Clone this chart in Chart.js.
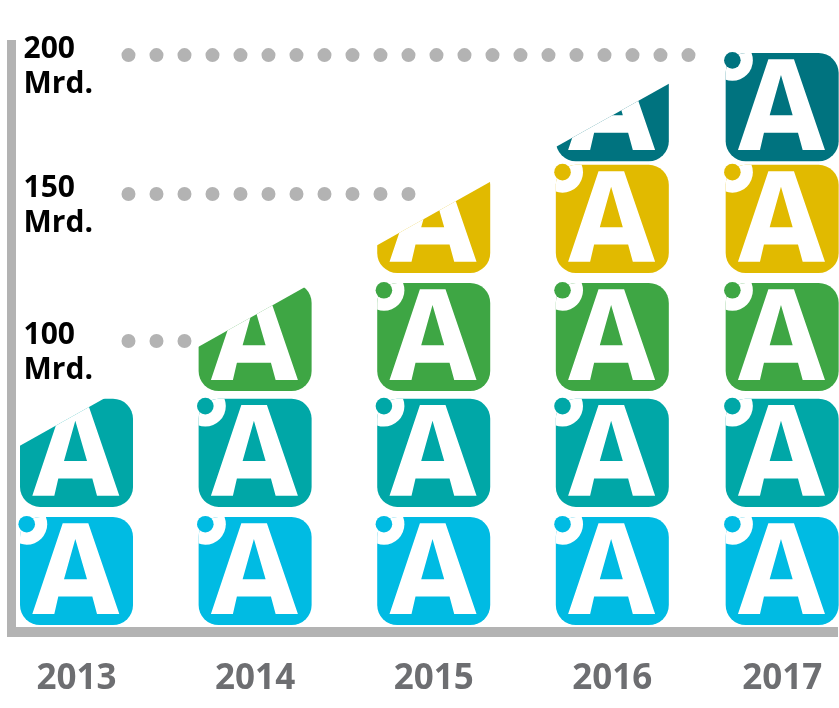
<!DOCTYPE html>
<html>
<head>
<meta charset="utf-8">
<title>Chart</title>
<script src="https://cdn.jsdelivr.net/npm/chart.js@4"></script>
<style>
  html, body { margin: 0; padding: 0; background: #fff; }
  #wrap { width: 839px; height: 708px; }
</style>
</head>
<body>
<div id="wrap"><canvas id="chart" width="839" height="708"></canvas></div>
<script>
// --- Data (Mrd.) ---
const years = ['2013', '2014', '2015', '2016', '2017'];
const totals = [73.8, 108.4, 143.9, 178.2, 200];
const tileLows = [0, 41.3, 81.8, 123.1, 162.2];
const tileSpan = 37.8;
const tileColors = ['#00bbe3', '#00a7a7', '#3ea644', '#e1ba00', '#00737f'];

// guide levels as they sit in the picture, and where each dotted line stops
const levelValues = [99.3, 150.7, 199.3];
const levelLabels = [['100', 'Mrd.'], ['150', 'Mrd.'], ['200', 'Mrd.']];
const leaderStart = 2013.291;
const leaderEnds = [2013.61, 2014.868, 2016.46];

const GREY = '#b3b3b3';

// 2017 sits closer to 2016 than the other years do
class SqueezedLinear extends Chart.LinearScale {
    static id = 'squeezedLinear';
    static defaults = Chart.LinearScale.defaults;
    getPixelForValue(value) {
        const v = value > 2016 ? 2016 + (value - 2016) * 0.951 : value;
        return super.getPixelForValue(v);
    }
}
Chart.register(SqueezedLinear);

// --- Tile drawing ---
function tracePolygon(ctx, x, y, points) {
    points.forEach((p, i) => {
        if (i === 0) ctx.moveTo(x + p[0], y + p[1]);
        else ctx.lineTo(x + p[0], y + p[1]);
    });
    ctx.closePath();
}

const glyphOuter = [[12.3, 97], [34.3, 97], [38.3, 79.7], [72.3, 79.7], [77, 97], [99.3, 97], [68.3, 6.3], [42.7, 6.3]];
const glyphInner = [[55.3, 22], [67, 62.3], [44, 62.3]];

function drawTile(ctx, el, color) {
    const w = el.width;
    const x = el.x - w / 2;
    const bottom = el.base;
    const top = bottom - tileSpan * 2.86;
    const cut = el.y > top + 1.5;
    ctx.save();
    if (cut) {
        // the last tile of a column is cut by a rising line through its value
        const slope = 0.56;
        ctx.beginPath();
        ctx.moveTo(x - 5, el.y + slope * (w / 2 + 5));
        ctx.lineTo(x + w + 5, el.y - slope * (w / 2 + 5));
        ctx.lineTo(x + w + 5, bottom + 5);
        ctx.lineTo(x - 5, bottom + 5);
        ctx.closePath();
        ctx.clip();
    }
    ctx.fillStyle = color;
    ctx.beginPath();
    ctx.roundRect(x, top, w, bottom - top, 20);
    ctx.fill();
    ctx.save();
    ctx.clip();

    ctx.fillStyle = '#fff';
    ctx.beginPath();
    tracePolygon(ctx, x, top, glyphOuter);
    tracePolygon(ctx, x, top, glyphInner);
    ctx.fill('evenodd');

    if (!cut) {
        ctx.beginPath();
        ctx.arc(x + 6.7, top + 7.3, 20.5, 0, Math.PI * 2);
        ctx.fill();
    }
    ctx.restore();

    if (!cut) {
        ctx.fillStyle = color;
        ctx.beginPath();
        ctx.arc(x + 6.7, top + 7.3, 8.3, 0, Math.PI * 2);
        ctx.fill();
    }
    ctx.restore();
}

const tilePlugin = {
    id: 'tiles',
    beforeDatasetDraw(chart, args) {
        const { index, meta } = args;
        if (meta.type !== 'bar') return;
        const ds = chart.data.datasets[index];
        meta.data.forEach((el, i) => {
            if (ds.data[i] != null) drawTile(chart.ctx, el, ds.backgroundColor);
        });
        return false;
    }
};

// --- Datasets ---
const tileDatasets = tileLows.map((low, k) => ({
    type: 'bar',
    label: 'Tile ' + (k + 1),
    backgroundColor: tileColors[k],
    barThickness: 113,
    data: totals.map(t => (t > low ? [low, Math.min(t, low + tileSpan)] : null))
}));

const leaderDatasets = levelValues.map((level, k) => ({
    type: 'line',
    label: levelLabels[k].join(' '),
    borderColor: GREY,
    borderWidth: 14,
    borderDash: [0, 28],
    borderCapStyle: 'round',
    pointRadius: 0,
    data: [{ x: leaderStart, y: level }, { x: leaderEnds[k], y: level }]
}));

new Chart(document.getElementById('chart'), {
    type: 'bar',
    data: { labels: years, datasets: [...tileDatasets, ...leaderDatasets] },
    plugins: [tilePlugin],
    options: {
        responsive: false,
        animation: false,
        layout: { padding: { left: 11.5, right: 2, top: 44.5, bottom: 0 } },
        plugins: { legend: { display: false }, tooltip: { enabled: false } },
        scales: {
            x: {
                type: 'squeezedLinear',
                stacked: true,
                offset: false,
                min: 2012.636,
                max: 2017.258,
                afterBuildTicks: scale => { scale.ticks = years.map(y => ({ value: +y })); },
                afterFit: scale => {
                    scale.height = 76;
                    scale.paddingLeft = 0;
                    scale.paddingRight = 0;
                },
                grid: { display: false },
                border: { color: GREY, width: 10 },
                ticks: {
                    autoSkip: false,
                    maxRotation: 0,
                    padding: 18,
                    color: '#6d6e71',
                    font: { family: '"Open Sans"', size: 35, weight: 'bold' },
                    callback: value => String(value)
                }
            },
            y: {
                min: -2.45,
                max: 203,
                afterBuildTicks: scale => { scale.ticks = levelValues.map(v => ({ value: v })); },
                afterFit: scale => {
                    scale.width = 0;
                    scale.paddingTop = 0;
                    scale.paddingBottom = 0;
                },
                grid: { display: false },
                border: { color: GREY, width: 9 },
                ticks: {
                    mirror: true,
                    autoSkip: false,
                    padding: 12,
                    labelOffset: 12,
                    color: '#000',
                    font: { family: '"Open Sans"', size: 30, weight: 'bold', lineHeight: 1.17 },
                    callback: (value, i) => levelLabels[i]
                }
            }
        }
    }
});
</script>
</body>
</html>
